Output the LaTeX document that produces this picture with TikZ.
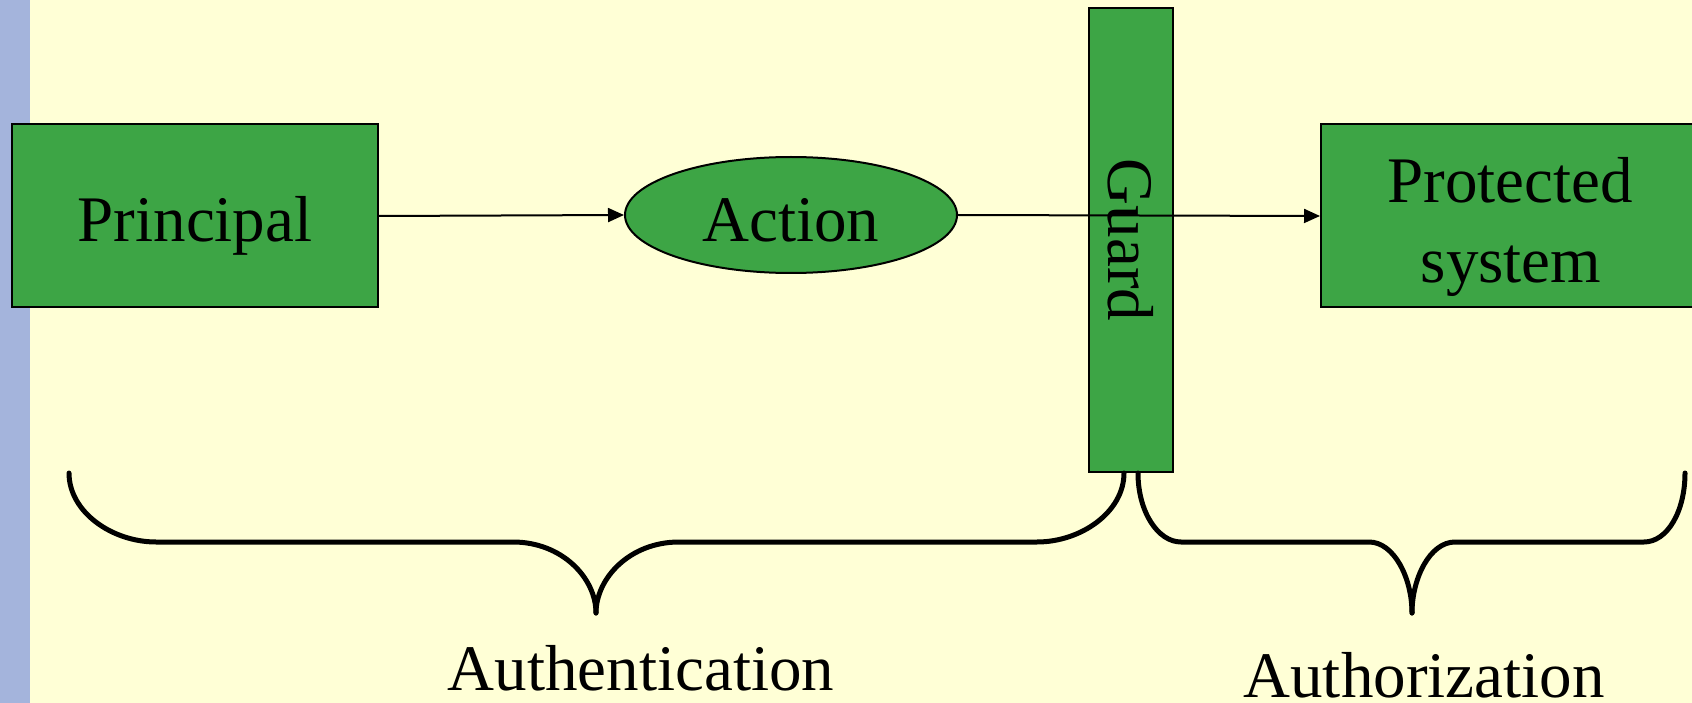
\documentclass[tikz,border=0pt]{standalone}
\usepackage{fontspec}
\setmainfont{Liberation Serif}
\usetikzlibrary{arrows.meta,shapes.geometric}
\definecolor{bgyellow}{RGB}{255,255,214}
\definecolor{stripblue}{RGB}{164,180,220}
\definecolor{boxgreen}{RGB}{61,165,69}
\tikzset{
  greenbox/.style={draw=black, line width=2pt, fill=boxgreen, inner sep=0pt, font=\fontsize{65}{66}\selectfont},
  bigtext/.style={font=\fontsize{65}{66}\selectfont, anchor=base, inner sep=0pt},
  conn/.style={line width=2pt, -{Triangle[length=16pt,width=14pt]}},
  bracepath/.style={line width=5pt, line cap=round, line join=round}
}
\begin{document}
\begin{tikzpicture}[x=1pt,y=-1pt]
\useasboundingbox (0,0) rectangle (1692,703);
\fill[bgyellow] (0,0) rectangle (1692,703);
\fill[stripblue] (0,0) rectangle (30,703);
% nodes
\node[greenbox, minimum width=366pt, minimum height=183pt, text height=53pt, text depth=0pt] (principal) at (195,215.5) {Principal};
\node[greenbox, ellipse, minimum width=332pt, minimum height=116pt, text height=54pt, text depth=0pt] (action) at (791,215) {Action};
\node[greenbox, minimum width=84pt, minimum height=464pt] (guard) at (1131,240) {\rotatebox{-90}{Guard}};
\node[greenbox, minimum width=380pt, minimum height=183pt] (prot) at (1511,215.5) {};
\node[bigtext] (protA) at (1510,203) {Protected};
\node[bigtext] (protB) at (1511,283) {system};
% connectors
\draw[conn] (principal.east |- 0,216) -- (action.west);
\draw[conn] (action.east) -- (prot.west |- 0,216);
% braces
\draw[bracepath] (69,473) .. controls (69,512) and (112,542) .. (156,542) -- (513,542)
  .. controls (562,542) and (596,578) .. (596,613);
\draw[bracepath] (596,613) .. controls (596,578) and (630,542) .. (679,542) -- (1037,542)
  .. controls (1081,542) and (1124,512) .. (1124,473);
\draw[bracepath] (1138,473) .. controls (1138,512) and (1158,542) .. (1181,542) -- (1369,542)
  .. controls (1394,542) and (1412,578) .. (1412,613);
\draw[bracepath] (1412,613) .. controls (1412,578) and (1430,542) .. (1455,542) -- (1644,542)
  .. controls (1667,542) and (1685,512) .. (1685,473);
\node[bigtext] (authn) at (641,690) {Authentication};
\node[bigtext] (authz) at (1424,697) {Authorization};
\end{tikzpicture}
\end{document}
